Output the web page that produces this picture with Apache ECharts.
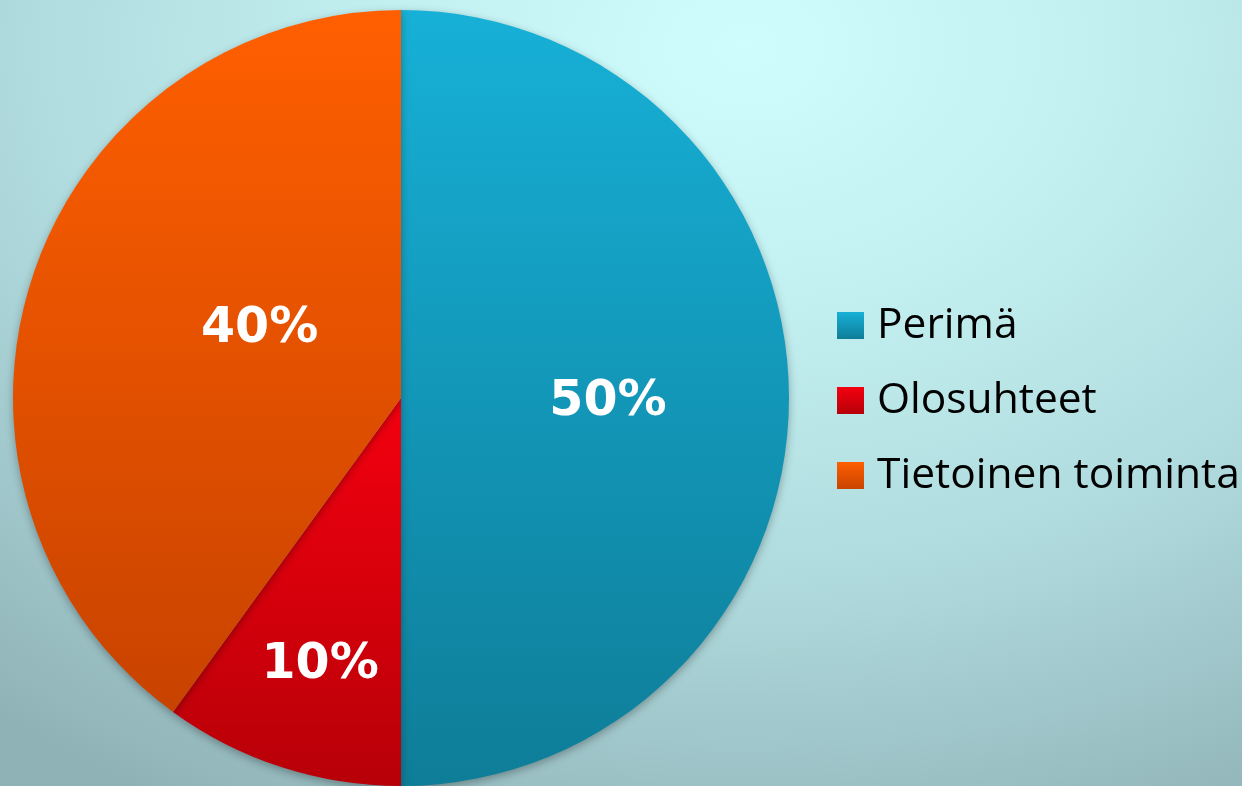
<!DOCTYPE html>
<html>
<head>
<meta charset="utf-8">
<script src="https://cdn.jsdelivr.net/npm/echarts@6/dist/echarts.min.js"></script>
<style>
html,body{margin:0;padding:0;width:1242px;height:786px;overflow:hidden;}
body{background:radial-gradient(ellipse 95% 110% at 60% 6%, #cffcfc 0%, #c2eff0 30%, #b1dcdf 60%, #9cc2c6 85%, #8fb2b6 100%);}
#chart{width:1242px;height:786px;}
</style>
</head>
<body>
<div id="chart"></div>
<script>
const categories = ['Perimä', 'Olosuhteet', 'Tietoinen toiminta'];
const values = [50, 10, 40];
const labelTexts = ['50%', '10%', '40%'];

const topColors = ['#17b0d7', '#f4000f', '#ff5f00'];
const bottomColors = ['#0e7d98', '#b70008', '#c84300'];

function grad(i) {
  return new echarts.graphic.LinearGradient(0, 0, 0, 1, [
    {offset: 0, color: topColors[i]}, {offset: 1, color: bottomColors[i]}
  ]);
}

const labelShift = [[10, 4], [-20, 80], [46, -8]];

const chart = echarts.init(document.getElementById('chart'));
chart.setOption({
  backgroundColor: 'transparent',
  animation: false,
  legend: {
    orient: 'vertical',
    left: 832,
    top: 299,
    itemWidth: 27,
    itemHeight: 27,
    itemGap: 32,
    icon: 'rect',
    textStyle: {fontFamily: 'Open Sans', fontSize: 42.5, color: '#000', padding: [0, 0, 0, 8]},
    data: categories.map((c, i) => ({name: c, itemStyle: {color: grad(i)}}))
  },
  series: [{
    type: 'pie',
    center: [401, 398],
    radius: 388,
    startAngle: 90,
    clockwise: true,
    label: {
      position: 'inside',
      color: '#fff',
      fontFamily: 'DejaVu Sans',
      fontWeight: 'bold',
      fontSize: 49,
      formatter: p => labelTexts[p.dataIndex]
    },
    labelLayout: p => ({dx: labelShift[p.dataIndex][0], dy: labelShift[p.dataIndex][1]}),
    itemStyle: {
      shadowBlur: 8,
      shadowColor: 'rgba(0,0,0,0.3)',
      shadowOffsetY: 3
    },
    emphasis: {disabled: true},
    data: categories.map((c, i) => ({name: c, value: values[i], itemStyle: {color: grad(i)}}))
  }]
});
</script>
</body>
</html>
